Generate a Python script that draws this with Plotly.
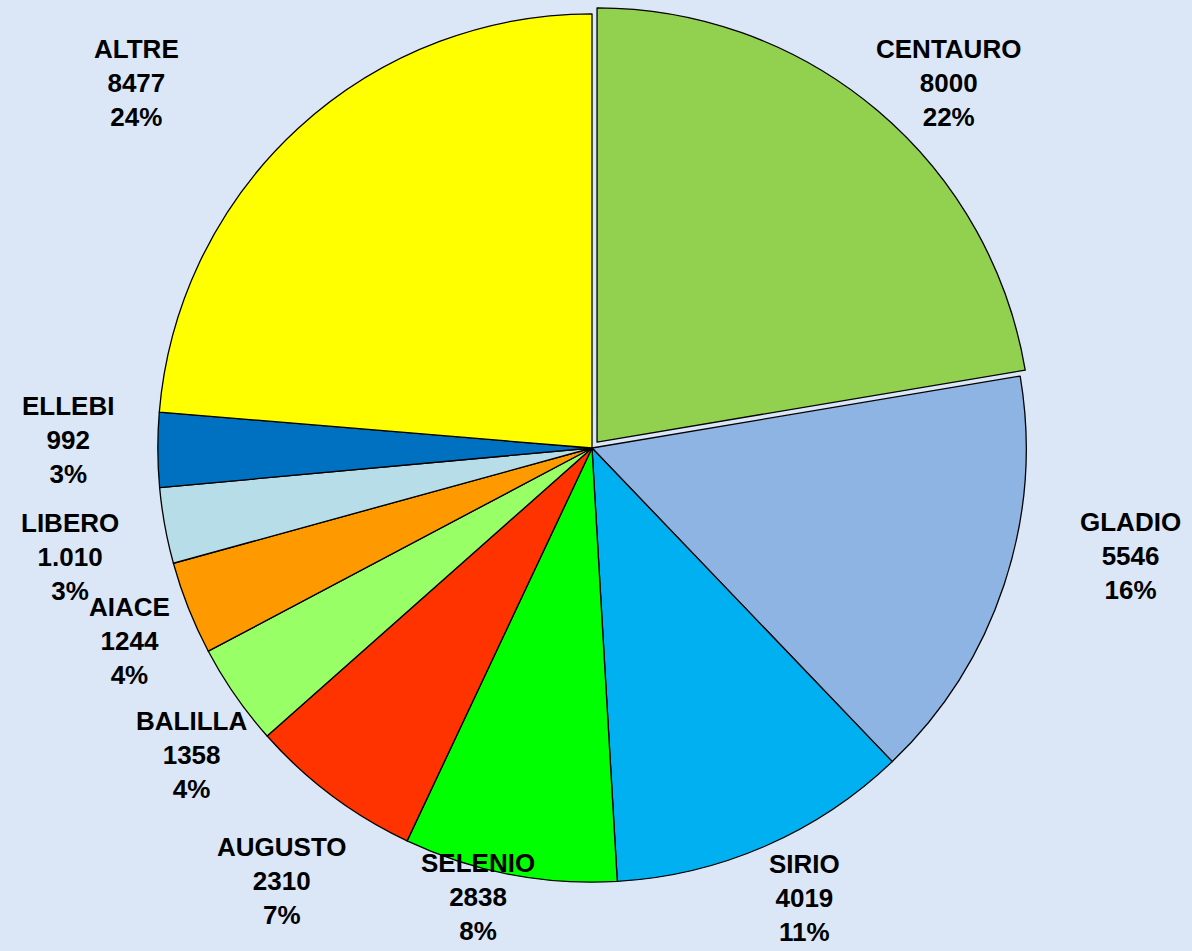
import math
import plotly.graph_objects as go

names = ["CENTAURO", "GLADIO", "SIRIO", "SELENIO", "AUGUSTO", "BALILLA", "AIACE", "LIBERO", "ELLEBI", "ALTRE"]
values = [8000, 5546, 4019, 2838, 2310, 1358, 1244, 1010, 992, 8477]
value_text = ["8000", "5546", "4019", "2838", "2310", "1358", "1244", "1.010", "992", "8477"]
pct_text = ["22%", "16%", "11%", "8%", "7%", "4%", "4%", "3%", "3%", "24%"]
colors = ["#92D050", "#8DB4E2", "#00B0F0", "#00FF00", "#FF3300", "#99FF66", "#FF9900", "#B7DEE8", "#0070C0", "#FFFF00"]
pulls = [0.018, 0, 0, 0, 0, 0, 0, 0, 0, 0]

# label placement (style): radial distance in pie radii and angular shift in degrees
label_radius = [1.175, 1.264, 1.147, 1.067, 1.227, 1.162, 1.153, 1.229, 1.207, 1.344]
label_shift = [4.1, -7.0, -1.7, 3.3, -1.2, -2.8, -1.0, -1.5, 1.1, -8.7]

BG = "#dbe7f6"
W, H = 1192, 951
ml, mr, mt, mb = 0, 8, 6, 61
pw, ph = W - ml - mr, H - mt - mb
R = min(pw, ph) / 2 / (1 + max(pulls))

fig = go.Figure(go.Pie(
    labels=names, values=values, sort=False, direction="clockwise", rotation=0,
    marker=dict(colors=colors, line=dict(color="black", width=1.3)),
    pull=pulls, textinfo="none", hoverinfo="label+value+percent", showlegend=False,
))

total = sum(values)
cum = 0
annotations = []
for n, v, vt, pt, lr, ls in zip(names, values, value_text, pct_text, label_radius, label_shift):
    mid = (cum + v / 2) / total * 360 + ls
    cum += v
    a = math.radians(mid)
    dx = lr * R * math.sin(a)
    dy = lr * R * math.cos(a)
    annotations.append(dict(
        x=0.5 + dx / pw, y=0.5 + dy / ph, xref="paper", yref="paper",
        text=f"{n}<br>{vt}<br>{pt}", showarrow=False,
        xanchor="center", yanchor="middle", align="center",
        font=dict(family="Liberation Sans, Arial", size=26, color="black", weight="bold"),
    ))

fig.update_layout(
    width=W, height=H, margin=dict(l=ml, r=mr, t=mt, b=mb),
    paper_bgcolor=BG, plot_bgcolor=BG,
    annotations=annotations,
)
fig.write_html(
    "out.html",
    config={"displayModeBar": False},
    post_script=f"document.body.style.margin='0';document.body.style.background='{BG}';",
)
